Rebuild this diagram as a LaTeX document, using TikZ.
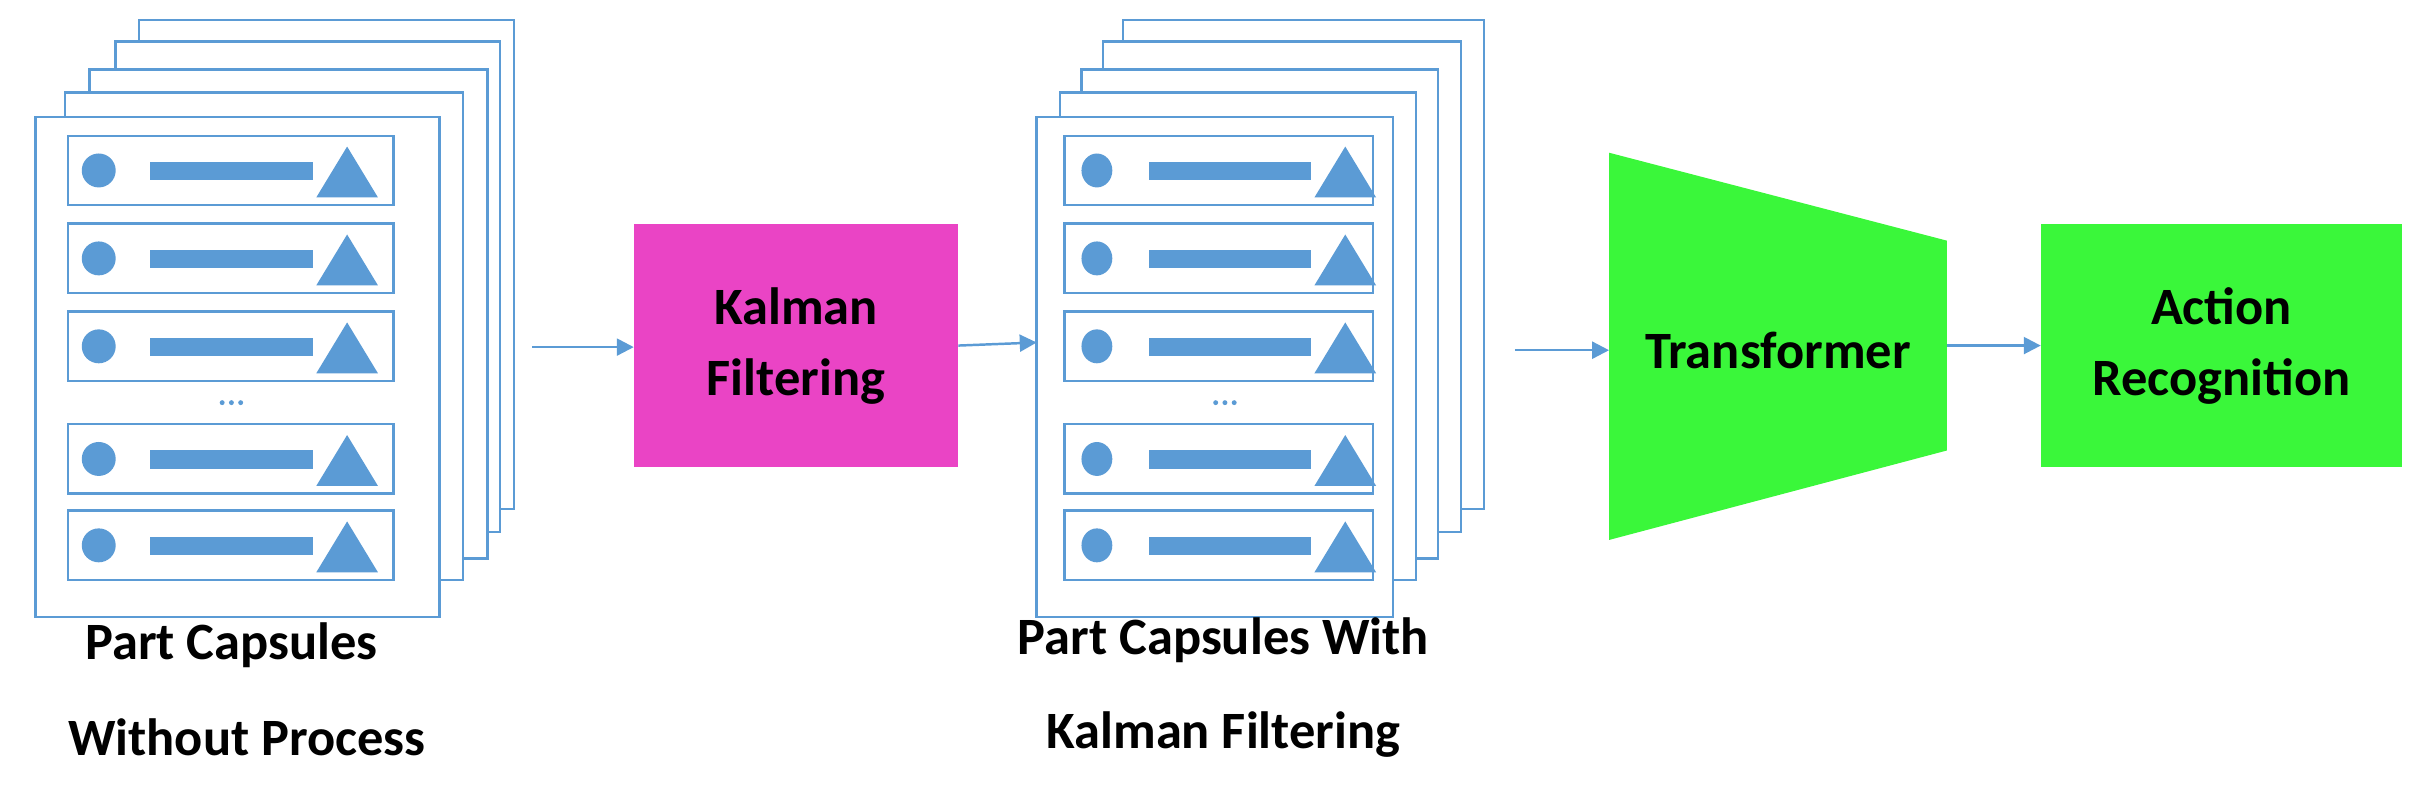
\documentclass[tikz,border=0pt]{standalone}
\usepackage{fontspec}
\setmainfont{Carlito}
\usetikzlibrary{arrows.meta}
\definecolor{cblue}{HTML}{5B9BD5}
\definecolor{cmag}{HTML}{EA44C5}
\definecolor{cgreen}{HTML}{3AF73A}
\begin{document}
\begin{tikzpicture}[x=1pt,y=-1pt,
  sheet/.style={draw=cblue,line width=1.6pt,fill=white},
  rowbox/.style={draw=cblue,line width=1.6pt,fill=white},
  shp/.style={fill=cblue},
  conn/.style={draw=cblue,line width=1.6pt,-{Triangle[length=11pt,width=11pt]}},
  lbl/.style={font=\fontsize{34}{40}\selectfont\bfseries,align=center,text=black},
  box/.style={draw=none,minimum width=#1,font=\fontsize{34}{40}\selectfont\bfseries,align=center,inner sep=0pt}]
\useasboundingbox (0,0) rectangle (1568,510);
% stacks
\foreach \a/\b/\c/\d in {90/13/333/330,75/27/324/345,58/45/316/362,42/60/300/376,23/76/285/400}
  \draw[sheet] (\a,\b) rectangle (\c,\d);
\foreach \a/\b/\c/\d in {728/13/962/330,715/27/947/345,701/45/932/362,687/60/918/376,672/76/903/400}
  \draw[sheet] (\a,\b) rectangle (\c,\d);
% rows
\foreach \ox/\bx/\cx/\tx in {0/0/0/0}{}
\foreach \y in {88,145,202,275,331}{
  \draw[rowbox] (44,\y) rectangle (255,\y+45);
  \fill[shp] (64,\y+22.5) circle (11);
  \fill[shp] (97,\y+17) rectangle (203,\y+29);
  \fill[shp] (205,\y+40) -- (225,\y+7) -- (245,\y+40) -- cycle;
  \draw[rowbox] (690,\y) rectangle (890,\y+45);
  \fill[shp] (711,\y+22.5) ellipse (10 and 11);
  \fill[shp] (745,\y+17) rectangle (850,\y+29);
  \fill[shp] (852,\y+40) -- (872,\y+7) -- (892,\y+40) -- cycle;
}
\foreach \x in {144,150,156} \fill[cblue] (\x,261) circle (1.6);
\foreach \x in {788,794,800} \fill[cblue] (\x,261) circle (1.6);
% boxes
\node[box=210pt,minimum height=158pt,fill=cmag] (kal) at (516,224) {Kalman\\[6pt]Filtering};
\fill[cgreen] (1043,99) -- (1262,156) -- (1262,292) -- (1043,350) -- cycle;
\node[box=219pt,inner sep=0pt] (tr) at (1152.5,227) {Transformer};
\node[box=234pt,minimum height=158pt,fill=cgreen] (act) at (1440,224) {Action\\[6pt]Recognition};
% connector ends
\coordinate (s1) at (345,225);
\coordinate (r1in) at (672,222);
\coordinate (r1out) at (982,227);
\coordinate (trin) at (1043,227);
\coordinate (trout) at (1262,224);
\draw[conn] (s1) -- (kal.west |- s1);
\draw[conn] (kal.east) -- (r1in);
\draw[conn] (r1out) -- (trin);
\draw[conn] (trout) -- (act.west |- trout);
% labels
\node[lbl] (l1) at (150,418) {Part Capsules};
\node[lbl] (l2) at (160,478) {Without Process};
\node[lbl] (l3) at (793,415) {Part Capsules With};
\node[lbl] (l4) at (793,476) {Kalman Filtering};
\end{tikzpicture}
\end{document}
